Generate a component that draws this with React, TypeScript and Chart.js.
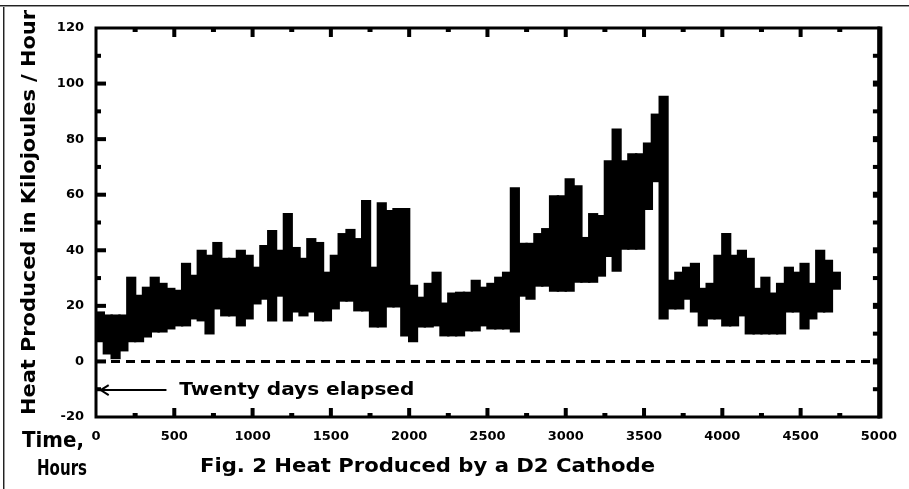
import React, { useEffect, useRef } from 'react';
import { Chart, registerables } from 'chart.js';

Chart.register(...registerables);

// ---- data ----
const hours = [
  25, 75, 125, 175, 225, 275, 325, 375, 425, 475,
  525, 575, 625, 675, 725, 775, 825, 875, 925, 975,
  1025, 1075, 1125, 1175, 1225, 1275, 1325, 1375, 1425, 1475,
  1525, 1575, 1625, 1675, 1725, 1775, 1825, 1875, 1925, 1975,
  2025, 2075, 2125, 2175, 2225, 2275, 2325, 2375, 2425, 2475,
  2525, 2575, 2625, 2675, 2725, 2775, 2825, 2875, 2925, 2975,
  3025, 3075, 3125, 3175, 3225, 3275, 3325, 3375, 3425, 3475,
  3525, 3575, 3625, 3675, 3725, 3775, 3825, 3875, 3925, 3975,
  4025, 4075, 4125, 4175, 4225, 4275, 4325, 4375, 4425, 4475,
  4525, 4575, 4625, 4675, 4725,
];

const highs = [
  18.0, 16.9, 16.9, 16.9, 30.5, 24.0, 26.9, 30.5, 28.3, 26.5,
  25.8, 35.5, 31.2, 40.2, 38.4, 43.0, 37.3, 37.3, 40.2, 38.4,
  34.1, 41.9, 47.3, 40.2, 53.4, 41.2, 37.3, 44.4, 43.0, 32.3,
  38.4, 46.2, 47.7, 44.4, 58.1, 34.1, 57.3, 54.5, 55.2, 55.2,
  27.6, 23.3, 28.3, 32.3, 21.2, 24.8, 25.1, 25.1, 29.4, 26.9,
  28.3, 30.5, 32.3, 62.7, 42.7, 42.7, 46.2, 48.0, 59.8, 59.8,
  65.9, 63.4, 44.8, 53.4, 52.7, 72.4, 83.8, 72.4, 74.9, 74.9,
  78.8, 89.2, 95.6, 29.4, 32.3, 34.1, 35.5, 26.5, 28.3, 38.4,
  46.2, 38.4, 40.2, 37.3, 26.5, 30.5, 24.8, 28.3, 34.1, 32.3,
  35.5, 28.3, 40.2, 36.6, 32.3,
];

const lows = [
  6.9, 2.5, 0.8, 3.6, 6.9, 6.9, 8.6, 10.4, 10.4, 11.5,
  12.6, 12.6, 15.1, 14.4, 9.7, 18.7, 16.2, 16.2, 12.6, 15.1,
  20.5, 22.2, 14.4, 23.3, 14.4, 17.6, 16.2, 17.6, 14.4, 14.4,
  18.7, 21.5, 21.5, 18.0, 18.0, 12.2, 12.2, 19.4, 19.4, 9.0,
  6.9, 12.2, 12.2, 12.6, 9.0, 9.0, 9.0, 10.8, 10.8, 12.6,
  11.5, 11.5, 11.5, 10.4, 23.3, 22.2, 26.9, 26.9, 25.1, 25.1,
  25.1, 28.3, 28.3, 28.3, 30.5, 37.6, 32.3, 40.2, 40.2, 40.2,
  54.5, 64.5, 15.1, 18.7, 18.7, 22.2, 17.6, 12.6, 15.1, 15.1,
  12.6, 12.6, 16.2, 9.7, 9.7, 9.7, 9.7, 9.7, 17.6, 17.6,
  11.5, 15.1, 17.6, 17.6, 25.8,
];

const zeroLineHours = [0, 5000];
const zeroLineValues = [0, 0];

const xTicks = [0, 500, 1000, 1500, 2000, 2500, 3000, 3500, 4000, 4500, 5000];
const yTicks = [-20, 0, 20, 40, 60, 80, 100, 120];

const yTitle = 'Heat Produced in Kilojoules / Hour';
const xTitleA = 'Time,';
const xTitleB = 'Hours';
const figTitle = 'Fig. 2 Heat Produced by a D2 Cathode';
const noteText = 'Twenty days elapsed';
const noteValue = -10.3;
const noteLineHours = [30, 450];
const noteTextHours = 532;

const FONT = '"DejaVu Sans", "Liberation Sans", sans-serif';

function drawFitted(ctx: CanvasRenderingContext2D, text: string, x: number, y: number, size: number, width: number, rot = false) {
  ctx.save();
  ctx.font = `bold ${size}px ${FONT}`;
  const w = ctx.measureText(text).width;
  ctx.translate(x, y);
  if (rot) ctx.rotate(-Math.PI / 2);
  ctx.scale(width / w, 1);
  ctx.textAlign = 'left';
  ctx.textBaseline = 'middle';
  ctx.fillStyle = '#000';
  ctx.fillText(text, 0, 0);
  ctx.restore();
}

const decor = {
  id: 'decor',
  beforeDraw(chart: any) {
    const ctx = chart.ctx as CanvasRenderingContext2D;
    ctx.save();
    ctx.fillStyle = '#fff';
    ctx.fillRect(0, 0, chart.width, chart.height);
    ctx.fillStyle = '#222';
    ctx.fillRect(0, 5, chart.width, 1);
    ctx.fillRect(3, 5, 1, chart.height);
    ctx.fillStyle = '#999';
    ctx.fillRect(0, 6, chart.width, 1);
    ctx.fillRect(4, 6, 1, chart.height);
    ctx.restore();
  },
  afterDatasetsDraw(chart: any) {
    const ctx = chart.ctx as CanvasRenderingContext2D;
    const { left, right, top, bottom } = chart.chartArea;
    const xs = chart.scales.x;
    const ys = chart.scales.y;
    ctx.save();
    ctx.fillStyle = '#000';
    ctx.strokeStyle = '#000';
    // frame
    ctx.lineWidth = 3;
    ctx.strokeRect(left, top, right - left, bottom - top);
    ctx.fillRect(right - 1.5, top - 1.5, 5, bottom - top + 3);
    // x ticks (inward, top and bottom)
    for (let h = 250; h < 5000; h += 250) {
      const px = xs.getPixelForValue(h);
      const major = h % 500 === 0;
      if (major) {
        ctx.fillRect(px - 2, top, 4, 9);
        ctx.fillRect(px - 2, bottom - 9, 4, 9);
      } else {
        ctx.fillRect(px - 2.5, top, 5, 4);
        ctx.fillRect(px - 2.5, bottom - 4, 5, 4);
      }
    }
    // y ticks (inward, left and right)
    for (let v = -10; v < 120; v += 10) {
      const py = ys.getPixelForValue(v);
      const major = v % 20 === 0;
      if (major) {
        ctx.fillRect(left, py - 2, 10, 4);
        ctx.fillRect(right - 6, py - 3, 6, 6);
      } else {
        ctx.fillRect(left, py - 2, 5, 4);
        ctx.fillRect(right - 6, py - 2, 6, 4);
      }
    }
    // annotation
    const ny = ys.getPixelForValue(noteValue);
    const x1 = xs.getPixelForValue(noteLineHours[0]);
    const x2 = xs.getPixelForValue(noteLineHours[1]);
    ctx.lineWidth = 2;
    ctx.beginPath();
    ctx.moveTo(x1, ny);
    ctx.lineTo(x2, ny);
    ctx.moveTo(x1 + 8, ny - 5);
    ctx.lineTo(x1, ny);
    ctx.lineTo(x1 + 8, ny + 5);
    ctx.stroke();
    drawFitted(ctx, noteText, xs.getPixelForValue(noteTextHours), ny, 18, 235);
    // titles
    drawFitted(ctx, yTitle, 30, 415, 19, 405, true);
    drawFitted(ctx, xTitleA, 22, 441, 22, 62);
    drawFitted(ctx, xTitleB, 37, 469, 22, 50);
    drawFitted(ctx, figTitle, 200, 467, 20, 455);
    ctx.restore();
  },
};

export default function App() {
  const ref = useRef<HTMLCanvasElement>(null);
  useEffect(() => {
    const tickFont = { family: FONT, weight: 'bold' as const, size: 13 };
    const chart = new Chart(ref.current!, {
      type: 'bar',
      data: {
        datasets: [
          {
            type: 'bar',
            data: hours.map((h, i) => ({ x: h, y: [lows[i], highs[i]] })) as any,
            backgroundColor: '#000',
            borderColor: '#000',
            borderWidth: 0,
            barPercentage: 1.3,
            categoryPercentage: 1,
          },
          {
            type: 'line',
            data: zeroLineHours.map((h, i) => ({ x: h, y: zeroLineValues[i] })) as any,
            borderColor: '#000',
            borderWidth: 3,
            borderDash: [9, 6],
            pointRadius: 0,
          },
        ],
      },
      options: {
        animation: false,
        responsive: false,
        devicePixelRatio: 1,
        layout: { padding: { left: 0, top: 28, right: 24, bottom: 0 } },
        plugins: { legend: { display: false }, tooltip: { enabled: false } },
        scales: {
          x: {
            type: 'linear',
            min: 0,
            max: 5000,
            offset: false,
            grid: { display: false, drawTicks: false, offset: false },
            border: { display: false },
            afterFit: (s: any) => { s.height = 72; },
            afterBuildTicks: (s: any) => { s.ticks = xTicks.map((v) => ({ value: v })); },
            ticks: {
              autoSkip: false, maxRotation: 0, padding: 12, color: '#000', font: tickFont,
              callback: (v: any) => String(v),
            },
          },
          y: {
            type: 'linear',
            min: -20,
            max: 120,
            grid: { display: false, drawTicks: false },
            border: { display: false },
            afterFit: (s: any) => { s.width = 96; },
            afterBuildTicks: (s: any) => { s.ticks = yTicks.map((v) => ({ value: v })); },
            ticks: { padding: 12, color: '#000', font: tickFont, callback: (v: any) => String(v) },
          },
        },
      } as any,
      plugins: [decor],
    });
    return () => chart.destroy();
  }, []);
  return (
    <div style={{ position: 'fixed', left: 0, top: 0, width: 909, height: 489, background: '#fff' }}>
      <canvas ref={ref} width={909} height={489} style={{ width: 909, height: 489, display: 'block' }} />
    </div>
  );
}
